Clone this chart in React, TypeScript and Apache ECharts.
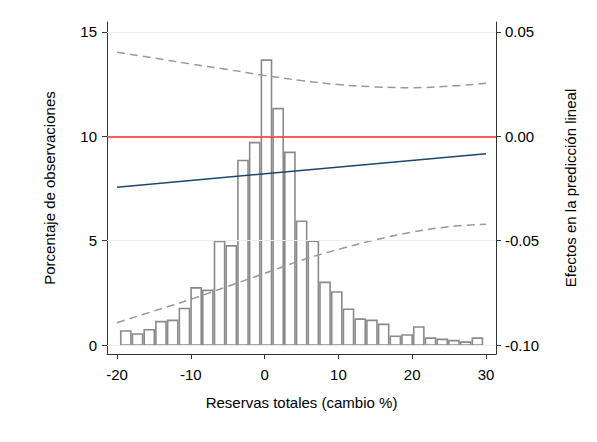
import React, { useEffect, useRef } from "react";
import * as echarts from "echarts";

// Histogram bins
const binStart = -19.6;
const binWidth = 1.588;
const binHeights = [
  0.67, 0.53, 0.73, 1.12, 1.18, 1.75, 2.74, 2.62, 4.96, 4.75,
  8.84, 9.7, 13.65, 11.33, 9.23, 5.93, 4.98, 3.0, 2.54, 1.71,
  1.24, 1.18, 0.99, 0.42, 0.48, 0.86, 0.33, 0.27, 0.21, 0.14, 0.33,
];

// Marginal effect line and confidence bands (right axis)
const effectX = [-20, 30];
const effectY = [-0.0244, -0.0083];
const ciX = [-20, -15, -10, -5, 0, 5, 10, 15, 20, 25, 30];
const ciUpper = [0.0403, 0.0375, 0.0347, 0.032, 0.0292, 0.0267, 0.0248, 0.0237, 0.0233, 0.024, 0.0254];
const ciLower = [-0.0893, -0.0837, -0.0781, -0.0719, -0.0657, -0.0594, -0.0542, -0.0496, -0.0459, -0.0433, -0.0421];

const xTicks = [-20, -10, 0, 10, 20, 30];
const leftTicks = [0, 5, 10, 15];
const rightTicks = [-0.1, -0.05, 0, 0.05];

const FONT = "Liberation Sans, Arial, sans-serif";

export default function App() {
  const ref = useRef<HTMLDivElement>(null);
  useEffect(() => {
    if (!ref.current) return;
    const chart = echarts.init(ref.current, undefined, { renderer: "svg" });
    const bins = binHeights.map((h, i) => [binStart + i * binWidth, binStart + (i + 1) * binWidth, h]);
    const axisColor = "#333";
    const labelStyle = { color: "#000", fontSize: 15, fontFamily: FONT };
    const nameStyle = { color: "#000", fontSize: 15, fontFamily: FONT };
    chart.setOption({
      animation: false,
      backgroundColor: "#fff",
      grid: { left: 107, right: 101, top: 22, bottom: 88 },
      xAxis: {
        type: "value",
        min: -21.355,
        max: 31.355,
        axisLine: { show: true, onZero: false, lineStyle: { color: axisColor, width: 1 } },
        axisTick: { show: true, length: 5, customValues: xTicks, lineStyle: { color: axisColor } },
        axisLabel: { ...labelStyle, margin: 13, customValues: xTicks, formatter: (v: number) => String(v) },
        splitLine: { show: false },
        name: "Reservas totales (cambio %)",
        nameLocation: "middle",
        nameGap: 41,
        nameTextStyle: nameStyle,
      },
      yAxis: [
        {
          type: "value",
          position: "left",
          min: -0.431,
          max: 15.479,
          axisLine: { show: true, onZero: false, lineStyle: { color: axisColor, width: 1 } },
          axisTick: { show: true, length: 5, customValues: leftTicks, lineStyle: { color: axisColor } },
          axisLabel: { ...labelStyle, margin: 10, customValues: leftTicks, formatter: (v: number) => String(Math.round(v)) },
          splitLine: { show: false },
          name: "Porcentaje de observaciones",
          nameLocation: "middle",
          nameRotate: 90,
          nameGap: 50,
          nameTextStyle: nameStyle,
        },
        {
          type: "value",
          position: "right",
          min: -0.10431,
          max: 0.05479,
          axisLine: { show: true, onZero: false, lineStyle: { color: axisColor, width: 1 } },
          axisTick: { show: true, length: 5, customValues: rightTicks, lineStyle: { color: axisColor } },
          axisLabel: { ...labelStyle, margin: 9, customValues: rightTicks, formatter: (v: number) => v.toFixed(2) },
          splitLine: { show: false },
          name: "Efectos en la predicción lineal",
          nameLocation: "middle",
          nameRotate: 90,
          nameGap: 67,
          nameTextStyle: nameStyle,
        },
      ],
      series: [
        {
          type: "line",
          xAxisIndex: 0,
          yAxisIndex: 0,
          data: [],
          z: 0,
          silent: true,
          markLine: {
            silent: true,
            symbol: "none",
            label: { show: false },
            lineStyle: { color: "#e6eff1", width: 1, type: "solid" },
            data: leftTicks.map((v) => ({ yAxis: v })),
          },
        },
        {
          type: "custom",
          xAxisIndex: 0,
          yAxisIndex: 0,
          z: 2,
          data: bins,
          encode: { x: [0, 1], y: 2 },
          renderItem: (params: any, api: any) => {
            const x0 = api.value(0);
            const x1 = api.value(1);
            const h = api.value(2);
            const p0 = api.coord([x0, h]);
            const p1 = api.coord([x1, 0]);
            return {
              type: "rect",
              shape: { x: p0[0] + 0.8, y: p0[1], width: p1[0] - p0[0] - 1.6, height: p1[1] - p0[1] },
              style: { fill: "#fff", stroke: "#8a8a8a", lineWidth: 1.6 },
            };
          },
        },
        {
          type: "line",
          xAxisIndex: 0,
          yAxisIndex: 1,
          z: 3,
          data: [],
          markLine: {
            silent: true,
            symbol: "none",
            label: { show: false },
            lineStyle: { color: "#ff2a2a", width: 1.6, type: "solid" },
            data: [{ yAxis: 0 }],
          },
        },
        {
          type: "line",
          xAxisIndex: 0,
          yAxisIndex: 1,
          z: 4,
          showSymbol: false,
          symbol: "none",
          lineStyle: { color: "#1a476f", width: 1.5 },
          data: effectX.map((x, i) => [x, effectY[i]]),
        },
        {
          type: "line",
          xAxisIndex: 0,
          yAxisIndex: 1,
          z: 4,
          smooth: 0.4,
          showSymbol: false,
          symbol: "none",
          lineStyle: { color: "#999", width: 1.5, type: [8, 5] },
          data: ciX.map((x, i) => [x, ciUpper[i]]),
        },
        {
          type: "line",
          xAxisIndex: 0,
          yAxisIndex: 1,
          z: 4,
          smooth: 0.4,
          showSymbol: false,
          symbol: "none",
          lineStyle: { color: "#999", width: 1.5, type: [8, 5] },
          data: ciX.map((x, i) => [x, ciLower[i]]),
        },
      ],
    });
    return () => chart.dispose();
  }, []);
  return (
    <div
      ref={ref}
      style={{ position: "fixed", left: 0, top: 0, width: 597, height: 442, background: "#fff" }}
    />
  );
}
